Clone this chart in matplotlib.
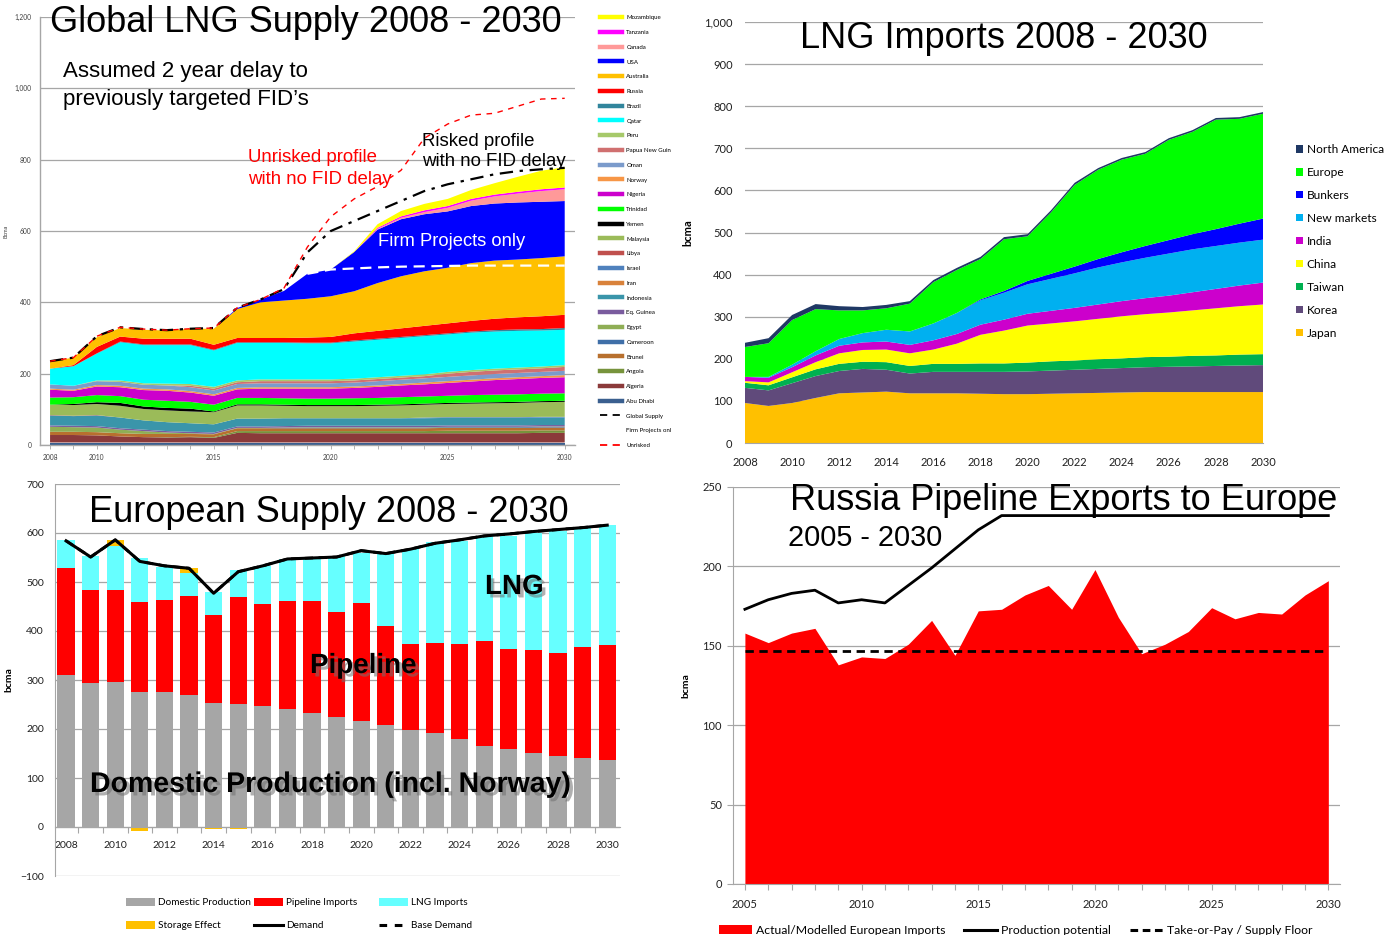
import numpy as np
import matplotlib
matplotlib.use('Agg')
import matplotlib.pyplot as plt
from matplotlib.lines import Line2D
from matplotlib.patches import Patch
import matplotlib.patheffects as pe
from matplotlib.ticker import FuncFormatter, MultipleLocator, FixedLocator

plt.rcParams['font.family'] = ['Lato', 'DejaVu Sans']
ARIAL = ['Liberation Sans', 'DejaVu Sans']
GRID = '#A6A6A6'
TICK = '#404040'

# ---------------- Global LNG supply by country, bcma, 2008-2030
lng_years = list(range(2008, 2031))
abu_dhabi = [7, 7, 7, 7, 7, 7, 7, 7, 7, 7, 7, 7, 7, 7, 7, 7, 7, 7, 7, 7, 7, 7, 7]
algeria = [21, 21, 20, 17, 15, 14, 15, 13, 27, 26, 26, 26, 26, 26, 26, 26, 26, 26, 26, 26, 26, 27, 27]
angola = [0, 0, 0, 0, 0, 1, 1, 2, 5, 6, 6, 6, 6, 6, 6, 6, 6, 7, 7, 7, 7, 7, 7]
brunei = [9, 9, 9, 9, 9, 9, 8, 8, 8, 8, 8, 8, 8, 8, 8, 8, 8, 8, 8, 8, 8, 8, 8]
cameroon = [0, 0, 0, 0, 0, 0, 0, 0, 0, 0, 1, 2, 2, 2, 2, 2, 2, 2, 2, 2, 2, 2, 2]
egypt = [14, 13, 13, 10, 8, 4, 2, 1, 1, 1, 1, 1, 1, 1, 1, 1, 1, 1, 1, 1, 1, 1, 1]
eq_guinea = [4, 4, 4, 4, 4, 4, 4, 4, 4, 4, 4, 4, 4, 4, 4, 4, 4, 4, 4, 4, 4, 4, 4]
indonesia = [28, 27, 30, 30, 26, 25, 24, 23, 22, 22, 22, 21, 21, 21, 21, 21, 21, 21, 21, 21, 21, 21, 21]
iran = [0, 0, 0, 0, 0, 0, 0, 0, 0, 0, 0, 0, 0, 0, 0, 0, 0, 0, 0, 0, 0, 0, 0]
israel = [0, 0, 0, 0, 0, 0, 0, 0, 0, 0, 0, 0, 0, 0, 0, 0, 2, 2, 2, 2, 2, 2, 2]
libya = [1, 1, 1, 0, 0, 0, 0, 0, 0, 0, 0, 0, 0, 0, 0, 0, 0, 0, 0, 0, 0, 0, 0]
malaysia = [29, 30, 31, 33, 32, 33, 33, 34, 37, 37, 35, 34, 34, 34, 35, 36, 36, 37, 38, 39, 40, 41, 42]
yemen = [0, 3, 5, 8, 7, 7, 8, 2, 3, 3, 3, 3, 3, 3, 3, 3, 3, 3, 3, 3, 3, 3, 3]
trinidad = [20, 19, 20, 19, 19, 20, 19, 19, 18, 18, 18, 18, 18, 19, 19, 20, 20, 20, 21, 21, 21, 21, 21]
nigeria = [22, 18, 24, 25, 27, 28, 26, 25, 24, 26, 27, 28, 28, 29, 31, 33, 34, 36, 38, 41, 43, 44, 45]
norway = [3, 3, 4, 4, 4, 4, 4, 4, 4, 4, 4, 4, 4, 4, 4, 4, 5, 5, 5, 5, 5, 5, 6]
oman = [12, 11, 11, 11, 11, 11, 11, 11, 11, 11, 11, 11, 11, 11, 12, 12, 12, 12, 12, 12, 12, 12, 12]
png = [0, 0, 0, 0, 0, 0, 4, 5, 5, 6, 6, 6, 6, 6, 6, 6, 6, 9, 10, 10, 10, 10, 11]
peru = [0, 0, 2, 4, 4, 5, 5, 5, 5, 5, 5, 5, 5, 5, 5, 5, 5, 5, 5, 5, 5, 5, 5]
qatar = [44, 55, 75, 107, 107, 108, 109, 102, 105, 102, 102, 101, 101, 104, 105, 106, 107, 105, 105, 104, 103, 101, 99]
brazil = [0, 0, 1, 2, 2, 2, 2, 2, 2, 2, 2, 2, 2, 3, 3, 3, 3, 3, 3, 4, 4, 4, 5]
russia = [0, 3, 18, 14, 16, 16, 16, 14, 12, 12, 12, 14, 16, 20, 22, 24, 26, 28, 30, 32, 34, 36, 37]
australia = [20, 21, 27, 24, 25, 23, 28, 45, 81, 100, 105, 109, 114, 118, 134, 146, 153, 156, 162, 163, 162, 163, 164]
usa = [0, 0, 0, 0, 0, 0, 0, 0, 3, 8, 27, 70, 75, 110, 150, 160, 160, 158, 160, 160, 160, 158, 155]
canada = [0, 0, 0, 0, 0, 0, 0, 0, 0, 0, 0, 0, 0, 0, 2, 4, 6, 10, 15, 20, 25, 30, 33]
tanzania = [0, 0, 0, 0, 0, 0, 0, 0, 0, 0, 0, 0, 0, 0, 3, 4, 5, 5, 5, 5, 5, 5, 5]
mozambique = [0, 0, 0, 0, 0, 0, 0, 0, 0, 0, 0, 0, 0, 2, 10, 15, 18, 20, 25, 32, 42, 52, 57]
global_supply = [235, 245, 305, 330, 325, 322, 326, 328, 385, 408, 437, 540, 600, 628, 656, 684, 712, 731, 745, 759, 768, 773, 777]
firm_projects = [np.nan] * 11 + [480, 492, 495, 498, 500, 501, 502, 503, 503, 503, 503, 503]
unrisked = [235, 245, 305, 330, 325, 322, 326, 328, 385, 408, 440, 555, 640, 690, 725, 770, 860, 900, 925, 930, 950, 970, 972]

# bottom to top
supply_layers = [
    ('Abu Dhabi', abu_dhabi, '#3A5F8F'), ('Algeria', algeria, '#8B3A3A'),
    ('Angola', angola, '#77933C'), ('Brunei', brunei, '#B8702E'),
    ('Cameroon', cameroon, '#3F6FA8'), ('Egypt', egypt, '#8FAE55'),
    ('Eq. Guinea', eq_guinea, '#7A5C9E'), ('Indonesia', indonesia, '#3A95AA'),
    ('Iran', iran, '#D9823B'), ('Israel', israel, '#4F81BD'),
    ('Libya', libya, '#C0504D'), ('Malaysia', malaysia, '#9BBB59'),
    ('Yemen', yemen, '#000000'), ('Trinidad', trinidad, '#00FF00'),
    ('Nigeria', nigeria, '#CC00CC'), ('Norway', norway, '#F79646'),
    ('Oman', oman, '#7B9BCB'), ('Papua New Guin', png, '#D07070'),
    ('Peru', peru, '#A6C96A'), ('Qatar', qatar, '#00FFFF'),
    ('Brazil', brazil, '#31859C'), ('Russia', russia, '#FF0000'),
    ('Australia', australia, '#FFC000'), ('USA', usa, '#0000FF'),
    ('Canada', canada, '#FF9999'), ('Tanzania', tanzania, '#FF00FF'),
    ('Mozambique', mozambique, '#FFFF00'),
]

# ---------------- LNG imports by region, bcma, 2008-2030
japan = [95, 88, 95, 107, 118, 120, 122, 118, 118, 118, 117, 116, 116, 117, 118, 119, 120, 121, 121, 121, 121, 121, 121]
korea = [36, 37, 47, 52, 53, 56, 52, 47, 51, 51, 52, 53, 54, 55, 56, 57, 58, 59, 60, 61, 62, 63, 64]
taiwan = [12, 12, 14, 16, 17, 17, 18, 18, 19, 19, 20, 20, 21, 22, 22, 23, 23, 24, 24, 25, 25, 26, 26]
china = [4, 7, 12, 17, 25, 28, 30, 30, 34, 48, 68, 78, 88, 90, 93, 96, 100, 102, 105, 108, 112, 115, 118]
india = [10, 11, 12, 16, 18, 18, 19, 20, 22, 23, 24, 26, 28, 30, 32, 34, 36, 38, 40, 43, 46, 49, 52]
new_markets = [0, 2, 6, 10, 16, 22, 28, 32, 40, 50, 58, 64, 70, 76, 82, 88, 92, 96, 100, 102, 102, 102, 102]
bunkers = [0, 0, 0, 0, 0, 0, 0, 0, 0, 0, 2, 4, 8, 12, 16, 20, 24, 28, 32, 36, 40, 45, 50]
europe_lng = [71, 80, 106, 100, 68, 54, 51, 66, 98, 102, 96, 123, 106, 146, 194, 212, 220, 219, 238, 243, 260, 249, 249]
north_america = [10, 12, 12, 12, 10, 8, 8, 6, 5, 5, 5, 5, 5, 5, 5, 4, 4, 4, 4, 4, 4, 4, 4]

import_layers = [
    ('Japan', japan, '#FFC000'), ('Korea', korea, '#604A7B'),
    ('Taiwan', taiwan, '#00B050'), ('China', china, '#FFFF00'),
    ('India', india, '#CC00CC'), ('New markets', new_markets, '#00B0F0'),
    ('Bunkers', bunkers, '#0000FF'), ('Europe', europe_lng, '#00FF00'),
    ('North America', north_america, '#1F3864'),
]

# ---------------- European supply, bcma, 2008-2030
eu_domestic = [310, 293, 296, 276, 276, 270, 254, 252, 247, 240, 232, 225, 216, 208, 198, 192, 180, 166, 160, 151, 145, 141, 136]
eu_pipeline = [218, 190, 187, 184, 188, 202, 178, 218, 209, 222, 230, 214, 242, 202, 176, 184, 194, 214, 204, 210, 211, 227, 236]
eu_lng = [57, 70, 91, 89, 66, 47, 48, 54, 77, 85, 85, 114, 102, 147, 193, 205, 210, 214, 230, 240, 249, 243, 245]
eu_storage = [-1, -2, 12, -8, 0, 9, -4, -5, 0, 0, 0, 0, 0, 0, 0, 0, 0, 0, 0, 0, 0, 0, 0]
eu_demand = [584, 551, 586, 542, 533, 528, 477, 521, 533, 547, 549, 551, 564, 558, 567, 579, 586, 594, 598, 603, 607, 611, 616]
eu_base_demand = [584, 551, 586, 542, 533, 528, 477, 521, 533, 547, 549, 551, 564, 558, 567, 579, 586, 594, 598, 603, 607, 611, 616]

# ---------------- Russian pipeline exports to Europe, bcma, 2005-2030
ru_years = list(range(2005, 2031))
ru_imports = [158, 152, 158, 161, 138, 143, 142, 151, 166, 144, 172, 173, 182, 188, 173, 198, 168, 145, 151, 159, 174, 167, 171, 170, 182, 191]
ru_potential = [173, 179, 183, 185, 177, 179, 177, 188, 199, 211, 223, 232, 232, 232, 232, 232, 232, 232, 232, 232, 232, 232, 232, 232, 232, 232]
ru_floor = [147, 147, 147, 147, 147, 147, 147, 147, 147, 147, 147, 147, 147, 147, 147, 147, 147, 147, 147, 147, 147, 147, 147, 147, 147, 147]

W, H = 1400, 935
fig = plt.figure(figsize=(W / 100, H / 100), dpi=100)


def box(x0, y0, x1, y1):
    # pixel box -> figure fraction rect
    return [x0 / W, 1 - y1 / H, (x1 - x0) / W, (y1 - y0) / H]


def ftext(x, y, s, **kw):
    kw.setdefault('va', 'center')
    return fig.text(x / W, 1 - y / H, s, **kw)


def flegend(handles, labels, x, y, **kw):
    opts = dict(loc='upper left', frameon=False, borderaxespad=0, borderpad=0)
    opts.update(kw)
    return fig.legend(handles, labels, bbox_to_anchor=(x / W, 1 - y / H), **opts)


# ======== top left: global LNG supply
ax1 = fig.add_axes(box(40, 17, 575, 445))
ax1.stackplot(lng_years, *[v for _, v, _ in supply_layers],
              colors=[c for _, _, c in supply_layers], linewidth=0, zorder=2)
ax1.plot(lng_years, firm_projects, color='white', lw=1.6, ls=(0, (5, 3)), zorder=3)
ax1.plot(lng_years, global_supply, color='black', lw=1.6, ls=(0, (6, 3, 1.5, 3)), zorder=4)
ax1.plot(lng_years, unrisked, color='red', lw=1.0, ls=(0, (4, 4)), zorder=5)
ax1.set_xlim(2007.57, 2030.44)
ax1.set_ylim(0, 1200)
ax1.yaxis.set_major_locator(MultipleLocator(200))
ax1.yaxis.set_major_formatter(FuncFormatter(lambda v, p: f'{int(v):,}'))
ax1.xaxis.set_major_locator(FixedLocator([2008, 2010, 2015, 2020, 2025, 2030]))
ax1.xaxis.set_minor_locator(MultipleLocator(1))
ax1.grid(axis='y', color=GRID, lw=0.9, zorder=0)
ax1.set_axisbelow(True)
for s in ['top', 'right']:
    ax1.spines[s].set_visible(False)
for s in ['left', 'bottom']:
    ax1.spines[s].set_color(GRID)
    ax1.spines[s].set_linewidth(1.0)
ax1.tick_params(axis='both', labelsize=4.8, colors=TICK, length=3, width=0.6)
ax1.tick_params(axis='x', which='minor', length=3, width=0.6, color=GRID)
ax1.tick_params(axis='x', which='major', color=GRID)
ax1.tick_params(axis='y', length=0, pad=6)
ax1.set_ylabel('Bcma', fontsize=4, color=TICK)
ax1.yaxis.set_label_coords(-0.058, 0.5)

ftext(50, 23, 'Global LNG Supply 2008 - 2030', fontsize=26, family=ARIAL)
ftext(63, 72, 'Assumed 2 year delay to', fontsize=16, family=ARIAL)
ftext(63, 100, "previously targeted FID\u2019s", fontsize=16, family=ARIAL)
ftext(248, 158, 'Unrisked profile', fontsize=13.4, family=ARIAL, color='red')
ftext(248, 179, 'with no FID delay', fontsize=13.4, family=ARIAL, color='red')
ftext(422, 141, 'Risked profile', fontsize=13.4, family=ARIAL)
ftext(422, 162, 'with no FID delay', fontsize=13.4, family=ARIAL)
ftext(378, 241, 'Firm Projects only', fontsize=13.2, family=ARIAL, color='white')

sup_handles = [Line2D([], [], color=c, lw=3.2) for _, _, c in supply_layers[::-1]]
sup_labels = [n for n, _, _ in supply_layers[::-1]]
sup_handles += [Line2D([], [], color='black', lw=1.3, ls=(0, (4, 3))),
                Line2D([], [], color='white', lw=1.3, ls=(0, (4, 3))),
                Line2D([], [], color='red', lw=1.3, ls=(0, (4, 3)))]
sup_labels += ['Global Supply', 'Firm Projects onl', 'Unrisked']
flegend(sup_handles, sup_labels, 600, 15, fontsize=4.4, handlelength=3.6,
        handletextpad=0.7, labelspacing=1.55)

# ======== top right: LNG imports
ax2 = fig.add_axes(box(745, 22, 1263, 443))
ax2.stackplot(lng_years, *[v for _, v, _ in import_layers],
              colors=[c for _, _, c in import_layers], linewidth=0, zorder=2)
ax2.set_xlim(2008, 2030)
ax2.set_ylim(0, 1000)
ax2.yaxis.set_major_locator(MultipleLocator(100))
ax2.yaxis.set_major_formatter(FuncFormatter(lambda v, p: f'{int(v):,}'))
ax2.xaxis.set_major_locator(MultipleLocator(2))
ax2.grid(axis='y', color=GRID, lw=0.9, zorder=0)
ax2.set_axisbelow(True)
for s in ['top', 'right', 'left']:
    ax2.spines[s].set_visible(False)
ax2.spines['bottom'].set_color(GRID)
ax2.tick_params(axis='both', labelsize=8, colors='#202020', length=0)
ax2.tick_params(axis='x', pad=10)
ax2.tick_params(axis='y', pad=9)
ax2.set_ylabel('bcma', fontsize=8, fontweight='bold')
ax2.yaxis.set_label_coords(-0.1, 0.5)
ftext(800, 38, 'LNG Imports 2008 - 2030', fontsize=26, family=ARIAL)

imp_handles = [Patch(facecolor=c, edgecolor='none') for _, _, c in import_layers[::-1]]
imp_labels = [n for n, _, _ in import_layers[::-1]]
flegend(imp_handles, imp_labels, 1296, 144, fontsize=8.6, handlelength=0.6,
        handleheight=0.6, handletextpad=0.3, labelspacing=1.0)

# ======== bottom left: European supply
ax3 = fig.add_axes(box(55, 484, 620, 876))
bw = 0.7
ax3.bar(lng_years, eu_domestic, width=bw, color='#A6A6A6', zorder=2)
ax3.bar(lng_years, eu_pipeline, width=bw, bottom=eu_domestic, color='#FF0000', zorder=2)
eu_pipe_top = [d + p for d, p in zip(eu_domestic, eu_pipeline)]
ax3.bar(lng_years, eu_lng, width=bw, bottom=eu_pipe_top, color='#66FFFF', zorder=2)
eu_lng_top = [t + l for t, l in zip(eu_pipe_top, eu_lng)]
stor_bottom = [t if s > 0 else 0 for t, s in zip(eu_lng_top, eu_storage)]
ax3.bar(lng_years, eu_storage, width=bw, bottom=stor_bottom, color='#FFC000', zorder=2)
ax3.plot(lng_years, eu_base_demand, color='black', lw=2, ls=(0, (3, 2)), zorder=3)
ax3.plot(lng_years, eu_demand, color='black', lw=2.2, zorder=4)
ax3.set_xlim(2007.55, 2030.52)
ax3.set_ylim(-100, 700)
ax3.yaxis.set_major_locator(MultipleLocator(100))
ax3.xaxis.set_major_locator(MultipleLocator(2))
ax3.xaxis.set_minor_locator(FixedLocator([y + 0.5 for y in lng_years[:-1]]))
ax3.grid(axis='y', color=GRID, lw=0.9, zorder=0)
ax3.set_axisbelow(True)
ax3.get_ygridlines()[0].set_visible(False)
ax3.spines['bottom'].set_position(('data', 0))
for s in ['top', 'right']:
    ax3.spines[s].set_visible(False)
for s in ['left', 'bottom']:
    ax3.spines[s].set_color(GRID)
ax3.tick_params(axis='both', labelsize=7.5, colors='#202020', length=0)
ax3.tick_params(axis='x', which='minor', length=4, color=GRID, width=0.8)
ax3.tick_params(axis='x', pad=10)
ax3.tick_params(axis='y', pad=8)
ax3.set_ylabel('bcma', fontsize=7.5, fontweight='bold')
ax3.yaxis.set_label_coords(-0.073, 0.5)
ftext(89, 512, 'European Supply 2008 - 2030', fontsize=26, family=ARIAL)
shadow = [pe.withSimplePatchShadow(offset=(2.5, -2.5), shadow_rgbFace='#707070', alpha=0.55)]
ftext(485, 587, 'LNG', fontsize=20, family=ARIAL, fontweight='bold', path_effects=shadow)
ftext(310, 666, 'Pipeline', fontsize=20, family=ARIAL, fontweight='bold', path_effects=shadow)
ftext(90, 785, 'Domestic Production (incl. Norway)', fontsize=20.5, family=ARIAL,
      fontweight='bold', path_effects=shadow)

# three legend columns, each anchored at its own x
eu_cols = [
    ([Patch(facecolor='#A6A6A6'), Patch(facecolor='#FFC000')],
     ['Domestic Production', 'Storage Effect'], 126),
    ([Patch(facecolor='#FF0000'), Line2D([], [], color='black', lw=2.2)],
     ['Pipeline Imports', 'Demand'], 254),
    ([Patch(facecolor='#66FFFF'), Line2D([], [], color='black', lw=2.2, ls=(0, (2.5, 2.5)))],
     ['LNG Imports', 'Base Demand'], 379),
]
for hs, ls_, x in eu_cols:
    flegend(hs, ls_, x, 898, fontsize=7.2, handlelength=2.9, handleheight=0.85,
            handletextpad=0.3, labelspacing=1.35)

# ======== bottom right: Russia pipeline exports
ax4 = fig.add_axes(box(733, 487, 1340, 884))
ax4.fill_between(ru_years, ru_imports, 0, color='#FF0000', lw=0, zorder=2)
ax4.plot(ru_years, ru_floor, color='black', lw=2, ls=(0, (3, 2)), zorder=3)
ax4.plot(ru_years, ru_potential, color='black', lw=2, zorder=4)
ax4.set_xlim(2004.49, 2030.5)
ax4.set_ylim(0, 250)
ax4.yaxis.set_major_locator(MultipleLocator(50))
ax4.xaxis.set_major_locator(MultipleLocator(5))
ax4.xaxis.set_minor_locator(MultipleLocator(1))
ax4.grid(axis='y', color=GRID, lw=0.9, zorder=0)
ax4.set_axisbelow(True)
for s in ['top', 'right']:
    ax4.spines[s].set_visible(False)
for s in ['left', 'bottom']:
    ax4.spines[s].set_color(GRID)
ax4.tick_params(axis='both', labelsize=8, colors='#202020')
ax4.tick_params(axis='x', which='both', length=4, color=GRID, width=0.8, pad=7)
ax4.tick_params(axis='y', length=4, color=GRID, width=0.8, pad=4)
ax4.set_ylabel('bcma', fontsize=7.5, fontweight='bold')
ax4.yaxis.set_label_coords(-0.071, 0.5)
ftext(790, 500, 'Russia Pipeline Exports to Europe', fontsize=26, family=ARIAL)
ftext(788, 538, '2005 - 2030', fontsize=20.8, family=ARIAL)

ru_handles = [Patch(facecolor='#FF0000'), Line2D([], [], color='black', lw=2.2),
              Line2D([], [], color='black', lw=2.2, ls=(0, (2.5, 1.5)))]
ru_labels = ['Actual/Modelled European Imports', 'Production potential',
             'Take-or-Pay / Supply Floor']
flegend(ru_handles, ru_labels, 719, 925, ncol=3, fontsize=8.8, handlelength=2.7,
        handleheight=0.8, handletextpad=0.35, columnspacing=1.5)

fig.savefig('out.png', dpi=100)
